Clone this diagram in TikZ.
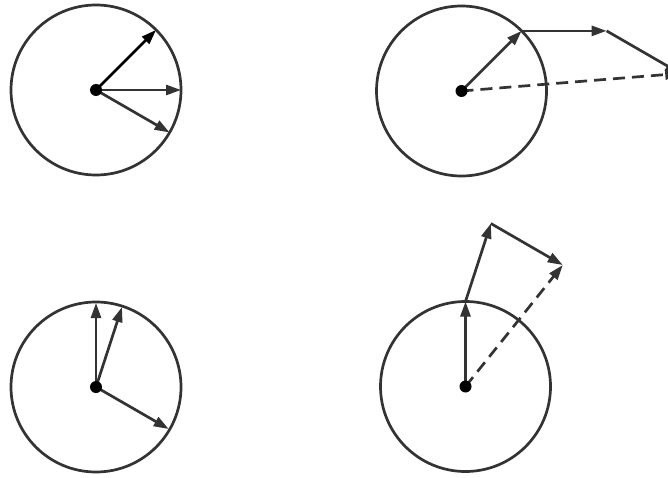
\documentclass[tikz,border=0pt]{standalone}
\usetikzlibrary{arrows.meta,calc}
\definecolor{ink}{HTML}{333333}
\tikzset{
  ring/.style={circle, draw=ink, line width=2.7pt, minimum size=170pt, inner sep=0pt},
  hub/.style={circle, fill=black, minimum size=12pt, inner sep=0pt},
  vec/.style={draw=ink, line width=2.7pt, -{Triangle[length=15pt,width=10pt]}},
  dvec/.style={vec, dash pattern=on 12pt off 7pt},
}
\begin{document}
\begin{tikzpicture}[x=1pt,y=1pt]
\useasboundingbox (0,0) rectangle (668,477);
\clip (0,0) rectangle (668,477);
% top-left
\coordinate (o1) at (96,387);
\node[ring] (r1) at (o1) {};
\coordinate (p1a) at ($(o1)+(45:85)$);
\coordinate (p1b) at ($(o1)+(0:85)$);
\coordinate (p1c) at ($(o1)+(-30:85)$);
\draw[vec,draw=black] (o1) -- (p1a);
\draw[vec] (o1) -- (p1b);
\draw[vec] (o1) -- (p1c);
\node[hub] (h1) at (o1) {};
% top-right
\coordinate (o2) at (461.5,386);
\node[ring] (r2) at (o2) {};
\coordinate (p2a) at ($(o2)+(45:85)$);
\coordinate (p2b) at ($(p2a)+(0:85)$);
\coordinate (p2c) at ($(p2b)+(-30:85)$);
\draw[vec] (o2) -- (p2a);
\draw[vec] (p2a) -- (p2b);
\draw[vec] (p2b) -- (p2c);
\draw[dvec] (o2) -- (p2c);
\node[hub] (h2) at (o2) {};
% bottom-left
\coordinate (o3) at (96,90);
\node[ring] (r3) at (o3) {};
\coordinate (p3a) at ($(o3)+(90:84)$);
\coordinate (p3b) at ($(o3)+(72:84)$);
\coordinate (p3c) at ($(o3)+(-30:84)$);
\draw[vec] (o3) -- (p3a);
\draw[vec] (o3) -- (p3b);
\draw[vec] (o3) -- (p3c);
\node[hub] (h3) at (o3) {};
% bottom-right
\coordinate (o4) at (465.5,90.5);
\node[ring] (r4) at (o4) {};
\coordinate (p4a) at ($(o4)+(90:85)$);
\coordinate (p4b) at ($(p4a)+(72:82)$);
\coordinate (p4c) at ($(p4b)+(-30:83)$);
\draw[vec] (o4) -- (p4a);
\draw[vec] (p4a) -- (p4b);
\draw[vec] (p4b) -- (p4c);
\draw[dvec] (o4) -- (p4c);
\node[hub] (h4) at (o4) {};
\end{tikzpicture}
\end{document}
